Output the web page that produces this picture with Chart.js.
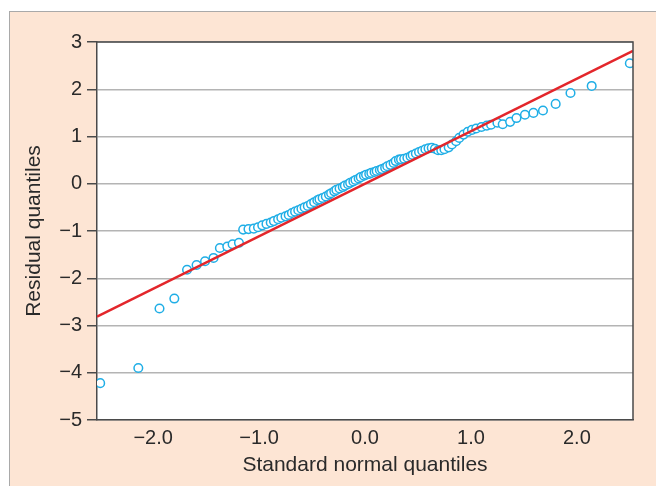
<!DOCTYPE html>
<html><head><meta charset="utf-8">
<script src="https://cdn.jsdelivr.net/npm/chart.js@4.4.1/dist/chart.umd.min.js"></script>
<style>
html,body{margin:0;padding:0;background:#fff;width:656px;height:486px;overflow:hidden}
#panel{position:absolute;left:9px;top:11px;right:0;bottom:0;background:#fde5d4;border-top:1px solid #a9a9a9;border-left:1px solid #a9a9a9}
#c{position:absolute;left:0;top:0}
</style></head>
<body>
<div id="panel"></div>
<canvas id="c" width="656" height="486"></canvas>
<script>
/* normal Q-Q plot of residuals: points + fitted reference line */
const C = {pt:'#1faee6', fit:'#e3262b', grid:'#b4b4b4', axis:'#4a4a4a', ink:'#2a2a2a'};
const FONT = "'Liberation Sans', Arial, sans-serif";

// theoretical quantiles (x) and sorted residuals (y)
const qTheo = [-2.50,-2.14,-1.94,-1.80,-1.68,-1.59,-1.51,-1.43,-1.37,-1.30,
  -1.25,-1.19,-1.15,-1.10,-1.05,-1.01,-0.97,-0.93,-0.89,-0.86,
  -0.82,-0.79,-0.75,-0.72,-0.69,-0.66,-0.63,-0.60,-0.57,-0.54,
  -0.51,-0.48,-0.45,-0.43,-0.40,-0.37,-0.34,-0.32,-0.29,-0.27,
  -0.24,-0.21,-0.19,-0.16,-0.14,-0.11,-0.09,-0.06,-0.04,-0.01,
  0.01,0.04,0.06,0.09,0.11,0.14,0.16,0.19,0.21,0.24,
  0.27,0.29,0.32,0.34,0.37,0.40,0.43,0.45,0.48,0.51,
  0.54,0.57,0.60,0.63,0.66,0.69,0.72,0.75,0.79,0.82,
  0.86,0.89,0.93,0.97,1.01,1.05,1.10,1.15,1.19,1.25,
  1.30,1.37,1.43,1.51,1.59,1.68,1.80,1.94,2.14,2.50];
const qResid = [-4.22,-3.90,-2.64,-2.43,-1.82,-1.72,-1.64,-1.57,-1.36,-1.33,
  -1.28,-1.25,-0.97,-0.96,-0.95,-0.92,-0.88,-0.85,-0.82,-0.79,
  -0.75,-0.72,-0.69,-0.66,-0.62,-0.59,-0.56,-0.53,-0.50,-0.47,
  -0.43,-0.39,-0.35,-0.33,-0.30,-0.27,-0.23,-0.20,-0.16,-0.13,
  -0.10,-0.07,-0.04,-0.01,0.02,0.05,0.08,0.11,0.14,0.17,
  0.19,0.21,0.23,0.25,0.27,0.29,0.31,0.34,0.37,0.40,
  0.44,0.48,0.51,0.52,0.53,0.55,0.58,0.61,0.64,0.67,
  0.70,0.73,0.75,0.76,0.74,0.71,0.71,0.73,0.77,0.83,
  0.90,0.97,1.04,1.10,1.14,1.17,1.20,1.23,1.25,1.29,
  1.26,1.31,1.39,1.46,1.50,1.55,1.69,1.92,2.07,2.55];
// fitted line end points
const fitX = [-2.53, 2.53];
const fitY = [-2.81, 2.81];
const xTicks = [-2, -1, 0, 1, 2];
const yTicks = [-5, -4, -3, -2, -1, 0, 1, 2, 3];

const minus = s => String(s).replace('-', '\u2212');

// white plot box, then its top + right edges on top of the data
const frame = {id:'frame',
  beforeDraw(ch){
    const a = ch.chartArea, g = ch.ctx;
    g.save(); g.fillStyle = '#fff'; g.fillRect(a.left, a.top, a.right-a.left, a.bottom-a.top); g.restore();
  },
  afterDatasetsDraw(ch){
    const a = ch.chartArea, g = ch.ctx;
    g.save(); g.strokeStyle = C.axis; g.lineWidth = 1.5;
    g.beginPath(); g.moveTo(a.left, a.top); g.lineTo(a.right, a.top); g.lineTo(a.right, a.bottom); g.stroke();
    g.restore();
  }};

new Chart(document.getElementById('c'), {
  type:'scatter',
  data:{datasets:[
    {type:'line', data:fitX.map((x,i)=>({x, y:fitY[i]})), borderColor:C.fit, borderWidth:2.5,
     pointRadius:0, fill:false, tension:0},
    {data:qTheo.map((x,i)=>({x, y:qResid[i]})), pointRadius:4.3, pointBorderWidth:1.5,
     pointBorderColor:C.pt, pointBackgroundColor:'#fff', showLine:false}
  ]},
  options:{responsive:false, animation:false, devicePixelRatio:1,
    layout:{padding:{left:0, top:42, right:23, bottom:0}},
    plugins:{legend:{display:false}, tooltip:{enabled:false}},
    scales:{
      x:{type:'linear', min:-2.53, max:2.53,
        afterFit:s=>{s.height=66;},
        afterBuildTicks:s=>{s.ticks=xTicks.map(v=>({value:v}));},
        grid:{display:false, drawTicks:false},
        border:{display:true, color:C.axis, width:1.5},
        ticks:{color:C.ink, padding:6, font:{family:FONT, size:20}, callback:v=>minus(v.toFixed(1))},
        title:{display:true, text:'Standard normal quantiles', color:C.ink,
          font:{family:FONT, size:21}, padding:{top:0, bottom:8}}},
      y:{type:'linear', min:-5, max:3,
        afterFit:s=>{s.width=97;},
        afterBuildTicks:s=>{s.ticks=yTicks.map(v=>({value:v}));},
        grid:{color:C.grid, lineWidth:1.5, tickColor:C.axis, tickLength:10, drawTicks:true},
        border:{display:true, color:C.axis, width:1.5},
        ticks:{color:C.ink, padding:5, font:{family:FONT, size:20}, callback:v=>minus(v)},
        title:{display:true, text:'Residual quantiles', color:C.ink,
          font:{family:FONT, size:21}, padding:{top:22, bottom:0}}}
    }},
  plugins:[frame]
});
</script>
</body></html>
